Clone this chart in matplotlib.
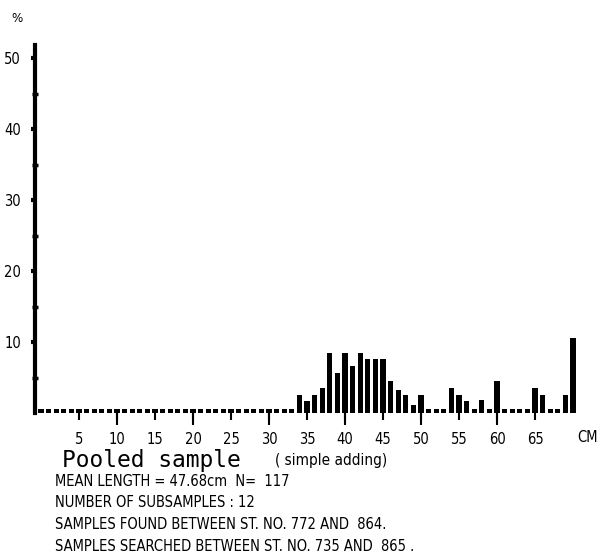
import matplotlib
matplotlib.use("Agg")
import matplotlib.pyplot as plt
import numpy as np

# ---- data (percent of fish per 1 cm length class) ----
lengths_cm = list(range(0, 71))
pct = [0.0] * 71
observed = {
    34: 2.5, 35: 1.7, 36: 2.5, 37: 3.5, 38: 8.5, 39: 5.6, 40: 8.5, 41: 6.6,
    42: 8.5, 43: 7.6, 44: 7.6, 45: 7.6, 46: 4.5, 47: 3.2, 48: 2.5, 49: 1.1,
    50: 2.5, 54: 3.5, 55: 2.5, 56: 1.7, 58: 1.8, 60: 4.5, 65: 3.5, 66: 2.5,
    69: 2.5, 70: 10.6,
}
for k, v in observed.items():
    pct[k] = v

x_ticks = [5, 10, 15, 20, 25, 30, 35, 40, 45, 50, 55, 60, 65]
y_ticks = [10, 20, 30, 40, 50]

title_text = "Pooled sample"
subtitle_text = "( simple adding)"
info_lines = [
    "MEAN LENGTH = 47.68cm  N=  117",
    "NUMBER OF SUBSAMPLES : 12",
    "SAMPLES FOUND BETWEEN ST. NO. 772 AND  864.",
    "SAMPLES SEARCHED BETWEEN ST. NO. 735 AND  865 .",
]

W, H = 599, 557
fig = plt.figure(figsize=(W / 100, H / 100), dpi=100)
FONT = dict(fontfamily="DejaVu Sans", fontstretch="condensed")

def px(x, y):
    return x / W, 1 - y / H

# axes: x = 41 + 7.6*cm px, y baseline 413 px, 7.1 px per %
x0 = (35 - 41) / 7.6
x1 = (599 - 41) / 7.6
ytop = (413 - 45) / 7.1
ax = fig.add_axes([35 / W, 1 - 413 / H, (599 - 35) / W, (413 - 45) / H])
ax.set_xlim(x0, x1)
ax.set_ylim(0, ytop)

heights = np.maximum(np.array(pct), 0.6)
ax.bar(lengths_cm, heights, width=0.7, color="black", align="center")

for s in ["top", "right", "bottom"]:
    ax.spines[s].set_visible(False)
ax.spines["left"].set_linewidth(3)
ax.spines["left"].set_color("black")

ax.set_yticks(y_ticks)
ax.set_yticklabels([str(v) for v in y_ticks], fontsize=10.5, **FONT)
ax.set_yticks([5, 15, 25, 35, 45], minor=True)
ax.tick_params(axis="y", which="major", direction="out", length=3, width=3, pad=7)
ax.tick_params(axis="y", which="minor", direction="inout", length=4, width=2.5)

ax.set_xticks(x_ticks)
ax.set_xticklabels([str(v) for v in x_ticks], fontsize=10.5, **FONT)
ax.tick_params(axis="x", which="major", direction="out", length=5, width=1.5, pad=9)
tens = [t for t in x_ticks if t % 10 == 0]
ax.vlines(tens, -1.7, 0, colors="black", linewidth=1.5, clip_on=False)

fig.text(*px(588, 437), "CM", fontsize=10.5, ha="center", va="center", **FONT)
fig.text(*px(17, 18), "%", fontsize=9.5, ha="center", va="center", **FONT)

fig.text(*px(62, 461), title_text, fontfamily="DejaVu Sans Mono", fontsize=16.5,
         ha="left", va="center")
fig.text(*px(275, 461), subtitle_text, fontsize=11, ha="left", va="center", **FONT)
for i, line in enumerate(info_lines):
    fig.text(*px(55, 481 + i * 21.7), line, fontsize=10.5,
             ha="left", va="center", **FONT)

fig.savefig("out.png", dpi=100)
